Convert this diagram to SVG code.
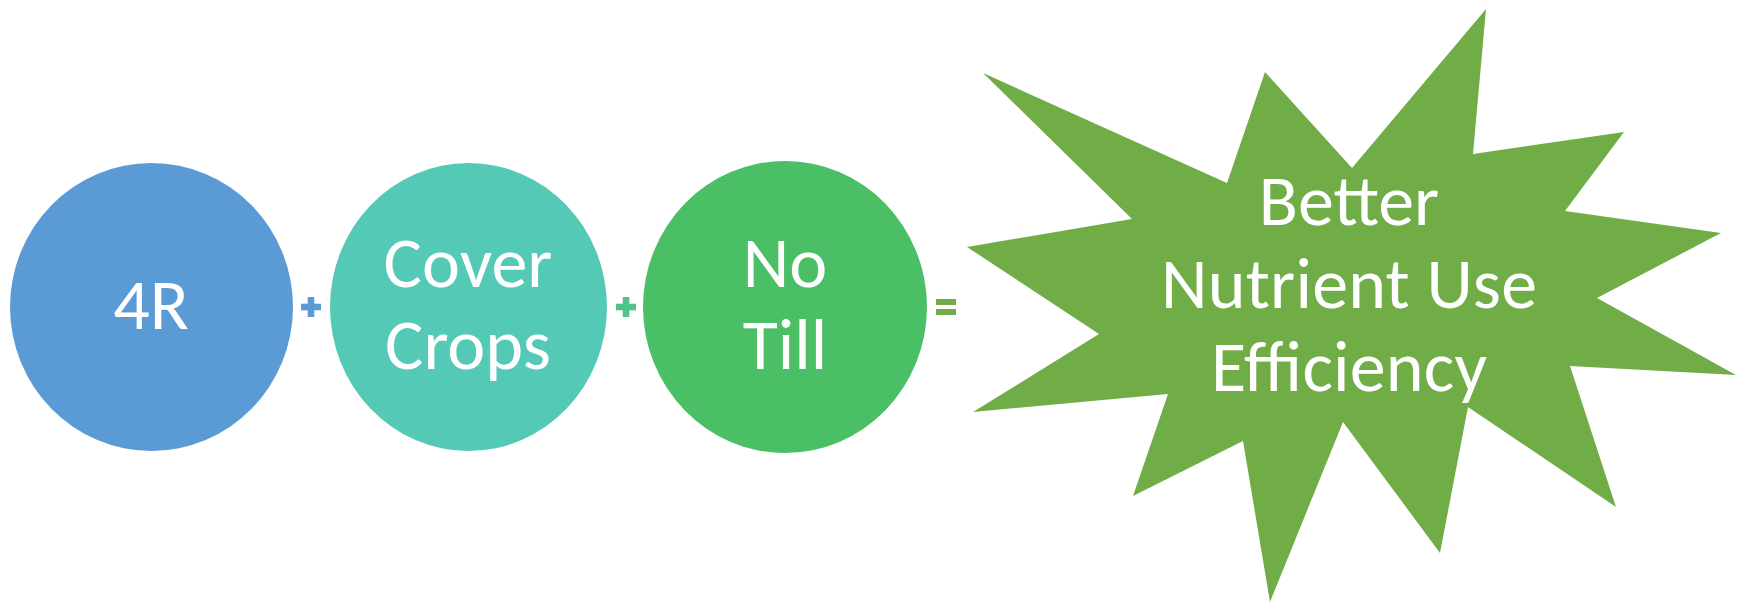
<svg xmlns="http://www.w3.org/2000/svg" width="1748" height="603" viewBox="0 0 1748 603">
<style>
  .lbl { font-family: Carlito, Calibri, Lato, "Open Sans", sans-serif; font-size: 72px; fill: #FFFFFF; text-anchor: middle; }
</style>
<rect x="0" y="0" width="1748" height="603" fill="#FFFFFF"/>
<g id="node-4r">
  <ellipse cx="151.5" cy="307" rx="141.5" ry="144" fill="#5B9BD5"/>
  <text class="lbl" x="151" y="329">4R</text>
</g>
<g id="node-cover-crops">
  <ellipse cx="468.5" cy="307" rx="138.5" ry="144" fill="#54C9B6"/>
  <text class="lbl" x="468" y="287">Cover</text>
  <text class="lbl" x="468" y="369">Crops</text>
</g>
<g id="node-no-till">
  <ellipse cx="785" cy="307" rx="142" ry="146" fill="#4BBF66"/>
  <text class="lbl" x="785" y="287">No</text>
  <text class="lbl" x="785" y="369">Till</text>
</g>
<g id="node-result">
  <polygon fill="#70AD47" points="983,73 1227,183 1265,72 1352,168 1486,9 1473,154 1624,132 1565,211 1721,233 1597,298 1736,375 1570,366 1616,507 1468,407 1440,553 1343,422 1270,602 1243,441 1133,496 1168,394 973,412 1099,334 967,247 1132,219"/>
  <text class="lbl" x="1349" y="225">Better</text>
  <text class="lbl" x="1349" y="308" textLength="376" lengthAdjust="spacing">Nutrient Use</text>
  <text class="lbl" x="1349" y="391" textLength="276" lengthAdjust="spacing">Efficiency</text>
</g>
<g id="connectors">
  <g id="op-plus-1" fill="#5B9BD5">
    <rect x="301" y="303.7" width="20" height="6.6"/>
    <rect x="307.7" y="297" width="6.6" height="20"/>
  </g>
  <g id="op-plus-2" fill="#4EC38B">
    <rect x="616" y="303.7" width="20" height="6.6"/>
    <rect x="622.7" y="297" width="6.6" height="20"/>
  </g>
  <g id="op-equals" fill="#70AD47">
    <rect x="936" y="299" width="20" height="6"/>
    <rect x="936" y="309" width="20" height="6"/>
  </g>
</g>
</svg>
